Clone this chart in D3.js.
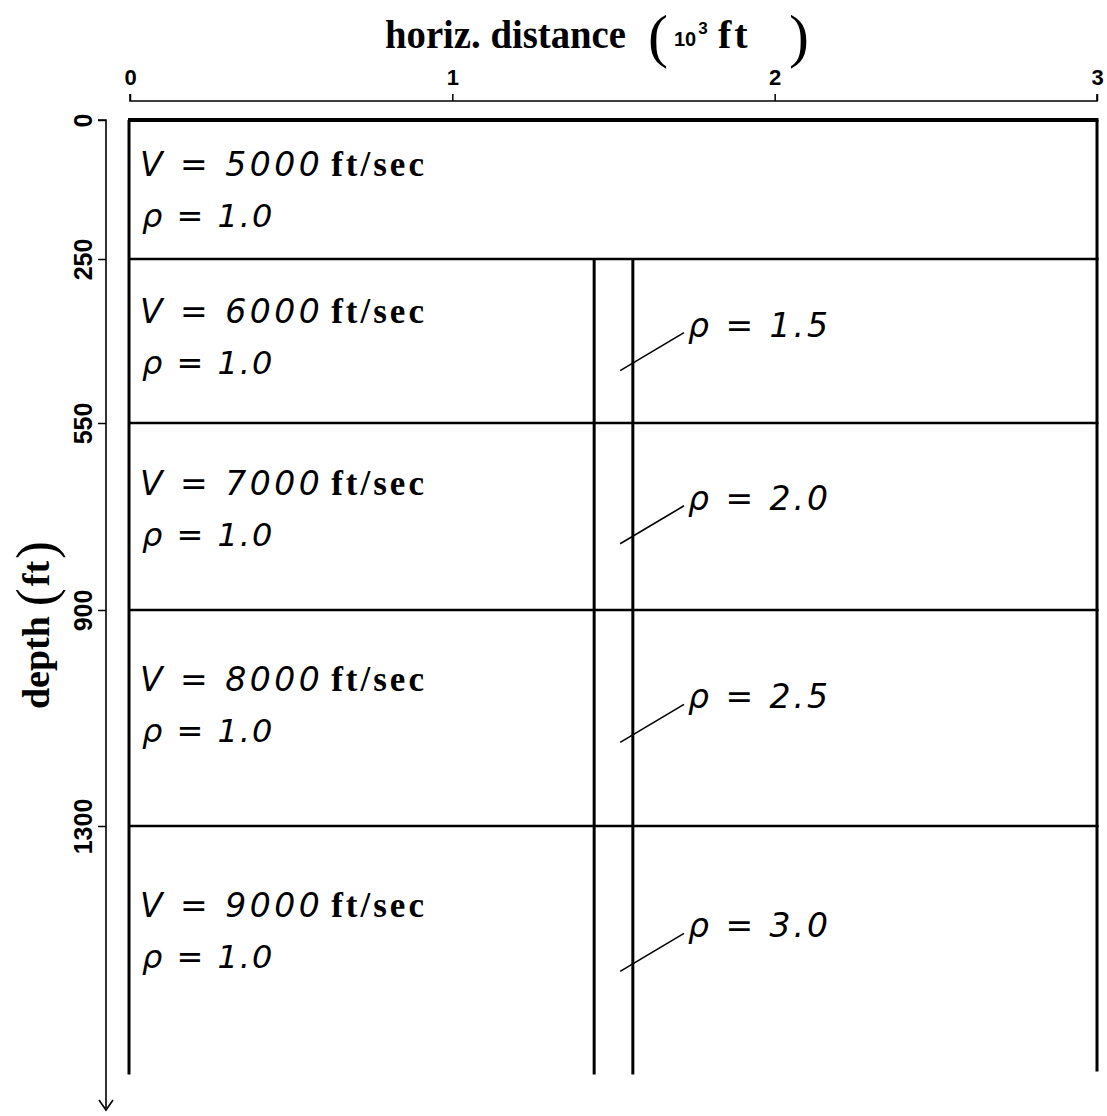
<!DOCTYPE html>
<html>
<head>
<meta charset="utf-8">
<script src="https://cdn.jsdelivr.net/npm/d3@7"></script>
<style>
  body { margin: 0; background: #fff; }
  svg { display: block; }
  .sans-it { font-family: "DejaVu Sans", sans-serif; font-style: italic; }
  .serif-b { font-family: "Liberation Serif", serif; font-weight: bold; }
  .tick-lbl { font-family: "Liberation Sans", sans-serif; font-weight: bold; }
</style>
</head>
<body>
<div id="chart"></div>
<script>
const W = 1107, H = 1116;

// model data
const interfaceDepths = [0, 250, 550, 900, 1300];   // ft
const velocities = [5000, 6000, 7000, 8000, 9000];  // ft/sec
const hostDensity = ["1.0", "1.0", "1.0", "1.0", "1.0"];
const dikeDensity = [null, "1.5", "2.0", "2.5", "3.0"];
const dikeEdges = [1440, 1560];                     // ft
const modelWidth = 3000;
const modelBottom = 1760;
const xTicks = [0, 1000, 2000, 3000];
const yTicks = [0, 250, 550, 900, 1300];

const x = d3.scaleLinear().domain([0, 3000]).range([130, 1097]);
// depth axis of the original drawing is not quite uniform
const y = d3.scaleLinear().domain([0, 250, 550, 900, 1300]).range([120, 259, 423, 610, 826]);

const svg = d3.select("#chart").append("svg")
  .attr("width", W).attr("height", H);

// Top axis
const gx = svg.append("g").attr("transform", `translate(0,101)`)
  .call(d3.axisTop(x).tickValues(xTicks).tickSize(7).tickFormat(d => d / 1000));
gx.select(".domain").attr("stroke-width", 1.6).attr("d", `M${x(0)},-7V0H${x(3000)}V-7`);
gx.selectAll(".tick line").attr("stroke-width", 1.5);
gx.selectAll(".tick text").attr("class", "tick-lbl").attr("font-size", 22).attr("y", -16)
  .attr("fill", "#000");

// Left axis
const gy = svg.append("g").attr("transform", `translate(106,0)`)
  .call(d3.axisLeft(y).tickValues(yTicks).tickSize(8).tickFormat(d3.format("d")));
gy.select(".domain").attr("stroke-width", 1.6).attr("d", `M-8,${y(0)}H0V1108`);
gy.selectAll(".tick line").attr("stroke-width", 1.5);
gy.selectAll(".tick text").attr("class", "tick-lbl").attr("font-size", 25)
  .attr("x", null).attr("dy", null)
  .attr("text-anchor", "middle")
  .attr("transform", "translate(-14,0) rotate(-90)")
  .attr("fill", "#000");
// arrow head
svg.append("path").attr("d", "M99,1100 L106,1110 L113,1100")
  .attr("fill", "none").attr("stroke", "#000").attr("stroke-width", 1.6);

// Model frame
const frame = svg.append("g").attr("stroke", "#000").attr("fill", "none");
frame.append("line").attr("x1", x(0) - 1).attr("x2", x(0) - 1)
  .attr("y1", y(0)).attr("y2", y(modelBottom)).attr("stroke-width", 3);
frame.append("line").attr("x1", x(modelWidth)).attr("x2", x(modelWidth))
  .attr("y1", y(0)).attr("y2", y(modelBottom) - 3).attr("stroke-width", 3);
frame.selectAll(".iface").data(interfaceDepths).join("line")
  .attr("x1", x(0) - 2).attr("x2", x(modelWidth) + 1.5)
  .attr("y1", d => y(d)).attr("y2", d => y(d))
  .attr("stroke-width", (d, i) => i === 0 ? 4 : 2.6);
frame.selectAll(".dike").data(dikeEdges).join("line")
  .attr("x1", d => x(d)).attr("x2", d => x(d))
  .attr("y1", y(interfaceDepths[1])).attr("y2", y(modelBottom))
  .attr("stroke-width", 3);

// Layer labels
const layerTop = (i) => y(interfaceDepths[i]);
const layerBot = (i) => i + 1 < interfaceDepths.length ? y(interfaceDepths[i + 1]) : y(modelBottom);

velocities.forEach((v, i) => {
  const h = layerBot(i) - layerTop(i);
  const cy = layerTop(i) + 0.32 * h;
  const t = svg.append("text").attr("x", 140).attr("y", cy + 12).attr("fill", "#000");
  t.append("tspan").attr("class", "sans-it").attr("font-size", 33)
    .attr("letter-spacing", 3.5).text(`V = ${v}`);
  t.append("tspan").attr("class", "serif-b").attr("font-size", 35).attr("dx", 8)
    .attr("letter-spacing", 3).text("ft/sec");

  svg.append("text").attr("class", "sans-it").attr("font-size", 32).attr("letter-spacing", 2)
    .attr("x", 142).attr("y", cy + 63).attr("fill", "#000")
    .text(`ρ = ${hostDensity[i]}`);

  if (dikeDensity[i]) {
    const dy = layerTop(i) + 0.40 * h;
    const x0 = x(dikeEdges[0]) + 26, x1 = 684;
    svg.append("line").attr("x1", x0).attr("y1", dy + 46).attr("x2", x1).attr("y2", dy + 8)
      .attr("stroke", "#000").attr("stroke-width", 1.6);
    svg.append("text").attr("class", "sans-it").attr("font-size", 33).attr("letter-spacing", 3)
      .attr("x", x1 + 4).attr("y", dy + 12).attr("fill", "#000")
      .text(`ρ = ${dikeDensity[i]}`);
  }
});

// Axis titles
svg.append("text").attr("class", "serif-b").attr("x", 385).attr("y", 48)
  .attr("font-size", 39).attr("textLength", 241).attr("lengthAdjust", "spacingAndGlyphs")
  .attr("fill", "#000").text("horiz. distance");
svg.append("text").attr("x", 648).attr("y", 56).attr("font-family", "Liberation Serif")
  .attr("font-size", 60).attr("fill", "#000").text("(");
svg.append("text").attr("x", 674).attr("y", 46).attr("class", "tick-lbl")
  .attr("font-size", 20).attr("fill", "#000").text("10")
  .append("tspan").attr("font-size", 17).attr("dy", -12).attr("dx", 2).text("3");
svg.append("text").attr("class", "serif-b").attr("x", 718).attr("y", 48)
  .attr("font-size", 40).attr("letter-spacing", 3).attr("fill", "#000").text("ft");
svg.append("text").attr("x", 789).attr("y", 56).attr("font-family", "Liberation Serif")
  .attr("font-size", 60).attr("fill", "#000").text(")");

const yl = svg.append("text").attr("transform", "translate(49,625) rotate(-90)")
  .attr("text-anchor", "middle").attr("fill", "#000");
yl.append("tspan").attr("class", "serif-b").attr("font-size", 38).text("depth");
yl.append("tspan").attr("font-family", "Liberation Serif").attr("font-size", 54)
  .attr("dx", 10).attr("dy", 5).text("(");
yl.append("tspan").attr("class", "serif-b").attr("font-size", 38).attr("dx", 2).attr("dy", -5).text("ft");
yl.append("tspan").attr("font-family", "Liberation Serif").attr("font-size", 54)
  .attr("dx", 2).attr("dy", 5).text(")");
</script>
</body>
</html>
